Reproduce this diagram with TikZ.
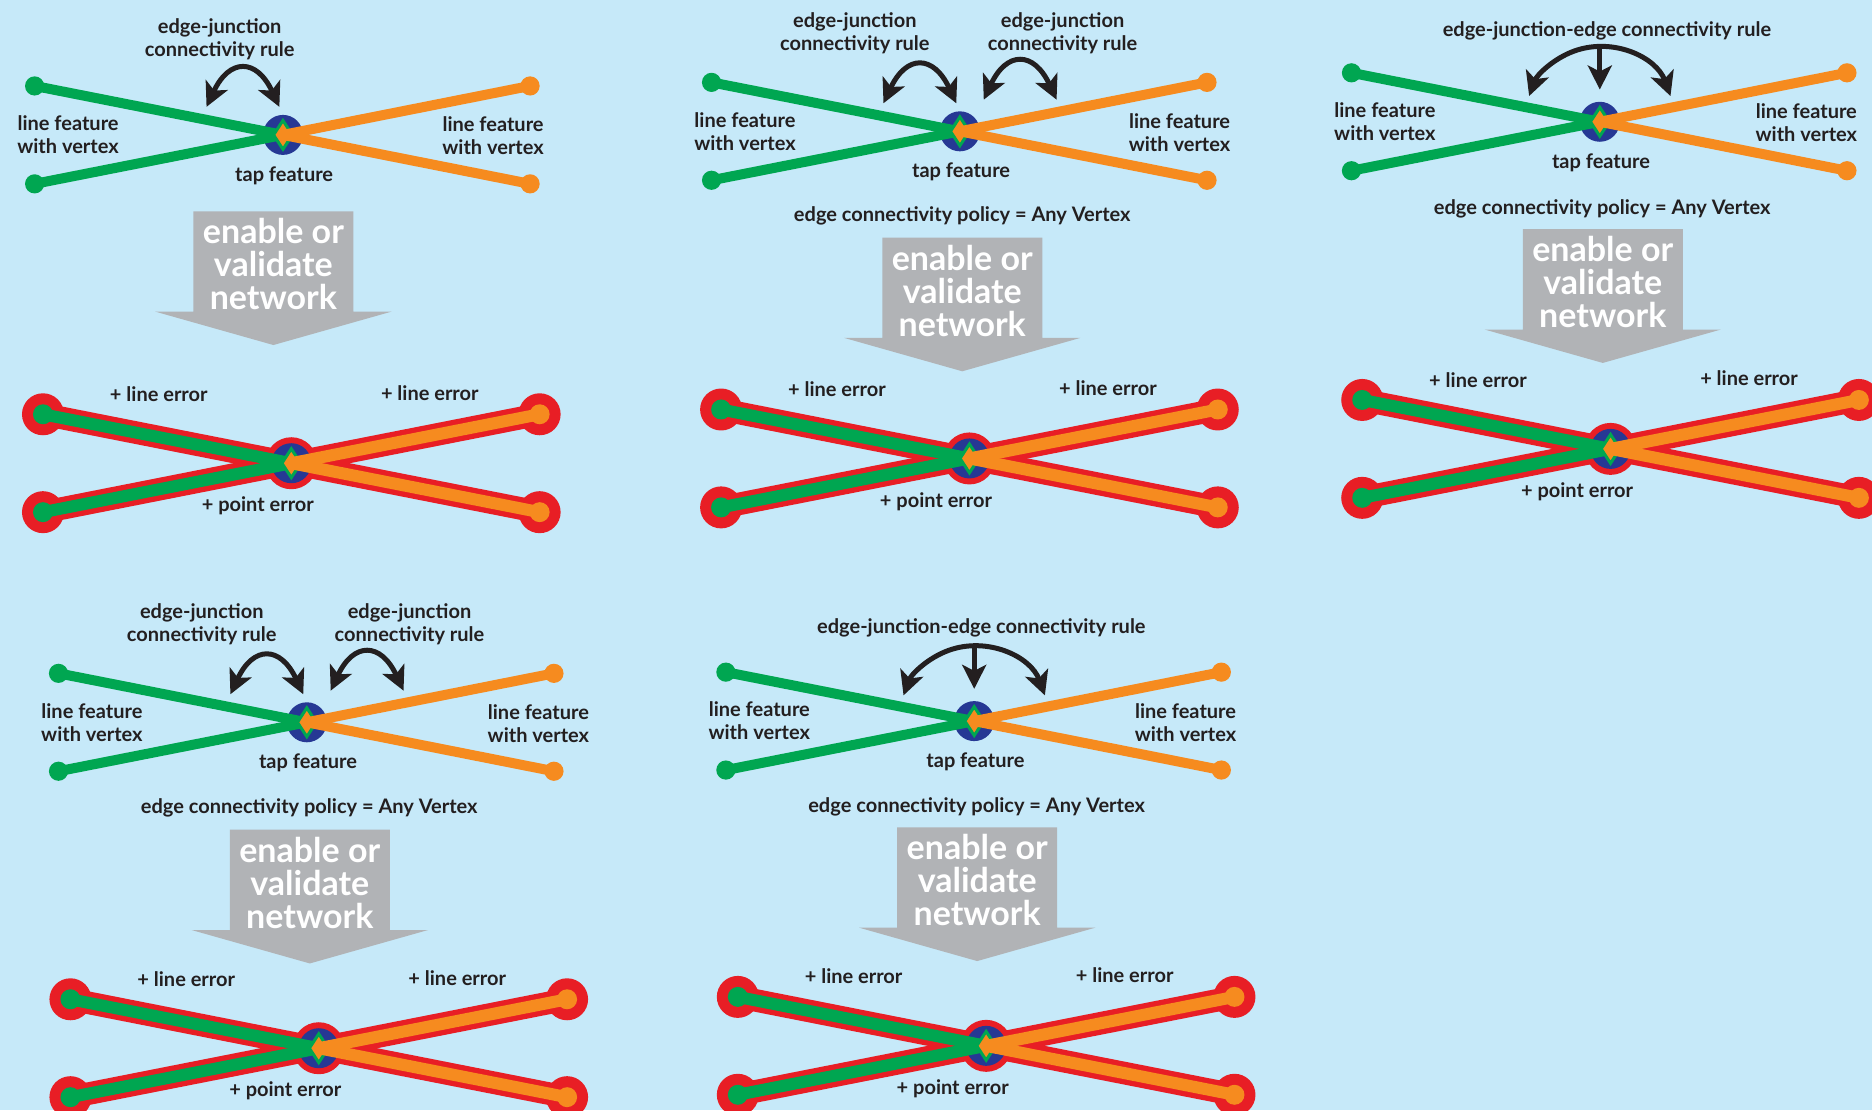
\documentclass[tikz,border=0pt]{standalone}
\usepackage{fontspec}
\setmainfont{Lato}
\usetikzlibrary{arrows.meta,shapes.geometric}

\definecolor{bgblue}{RGB}{198,233,249}
\definecolor{fgreen}{RGB}{0,166,81}
\definecolor{forange}{RGB}{246,139,31}
\definecolor{ered}{RGB}{232,30,37}
\definecolor{tapblue}{RGB}{38,56,148}
\definecolor{vgrey}{RGB}{177,179,182}
\definecolor{ink}{RGB}{35,31,32}

\tikzset{
  lbl/.style={text=ink, font=\bfseries\fontsize{10}{11.5}\selectfont, align=center, inner sep=0pt},
  bigtxt/.style={text=white, font=\bfseries\fontsize{17}{16.5}\selectfont, align=center, inner sep=0pt},
  gline/.style={draw=fgreen, line width=5pt},
  oline/.style={draw=forange, line width=5pt},
  gdot/.style={circle, fill=fgreen, minimum size=9.6pt, inner sep=0pt},
  odot/.style={circle, fill=forange, minimum size=9.6pt, inner sep=0pt},
  tapdot/.style={circle, fill=tapblue, minimum size=20pt, inner sep=0pt},
  tapmark/.style={diamond, fill=forange, draw=fgreen, line width=1.5pt, minimum width=10pt, minimum height=15pt, inner sep=0pt},
  errline/.style={draw=ered, line width=11.3pt},
  errdot/.style={circle, fill=ered, minimum size=21pt, inner sep=0pt},
  errtap/.style={circle, fill=ered, minimum size=26pt, inner sep=0pt},
  egline/.style={draw=fgreen, line width=6pt},
  eoline/.style={draw=forange, line width=6pt},
  egdot/.style={circle, fill=fgreen, minimum size=10pt, inner sep=0pt},
  eodot/.style={circle, fill=forange, minimum size=10pt, inner sep=0pt},
  ruletip/.tip={Stealth[length=12pt, width=12pt, inset=3pt]},
  rulearrow/.style={draw=ink, line width=2.5pt, ruletip-ruletip},
  downarrow/.style={draw=ink, line width=2.5pt, -ruletip},
  crossing/.pic={
    \node[tapdot] (-tap) at (0,0) {};
    \node[gdot] (-g1) at (-208,41) {};
    \node[gdot] (-g2) at (-208,-41) {};
    \node[odot] (-o1) at (207,41) {};
    \node[odot] (-o2) at (207,-41) {};
    \draw[gline] (-g1.center) -- (-tap.center);
    \draw[gline] (-g2.center) -- (-tap.center);
    \node[tapmark] (-mark) at (0,0) {};
    \draw[oline] (-o1.center) -- (-tap.center);
    \draw[oline] (-o2.center) -- (-tap.center);
    \node[lbl] (-left) at (-180,0) {line feature\\with vertex};
    \node[lbl] (-right) at (#1,-1) {line feature\\with vertex};
    \node[lbl] (-name) at (1,-34) {tap feature};
  },
  errorx/.pic={
    \node[errtap] (-tap) at (0,0) {};
    \node[errdot] (-g1) at (-208,41) {};
    \node[errdot] (-g2) at (-208,-41) {};
    \node[errdot] (-o1) at (208,41) {};
    \node[errdot] (-o2) at (208,-41) {};
    \draw[errline] (-g1.center) -- (-tap.center);
    \draw[errline] (-g2.center) -- (-tap.center);
    \draw[errline] (-o1.center) -- (-tap.center);
    \draw[errline] (-o2.center) -- (-tap.center);
    \node[tapdot] (-blue) at (0,0) {};
    \node[egdot] (-gd1) at (-g1) {};
    \node[egdot] (-gd2) at (-g2) {};
    \draw[egline] (-gd1.center) -- (-tap.center);
    \draw[egline] (-gd2.center) -- (-tap.center);
    \node[tapmark] (-mark) at (0,0) {};
    \node[eodot] (-od1) at (-o1) {};
    \node[eodot] (-od2) at (-o2) {};
    \draw[eoline] (-od1.center) -- (-tap.center);
    \draw[eoline] (-od2.center) -- (-tap.center);
    \node[lbl] (-err1) at (-111,58) {+ line error};
    \node[lbl] (-err2) at (116,59) {+ line error};
    \node[lbl] (-perr) at (-28,-36) {+ point error};
  },
  valarrow/.pic={
    \fill[vgrey] (-67,0) -- (67,0) -- (67,-84) -- (99,-84) -- (0,-112)
      -- (-99,-84) -- (-67,-84) -- cycle;
    \node[bigtxt] (-txt) at (0,-44.5) {enable or\\validate\\network};
  },
  jarrow/.pic={
    \coordinate (-a) at (-30.5,0);
    \coordinate (-b) at (30.5,0);
    \draw[rulearrow] (-a) to[out=65, in=115, looseness=1.9] (-b);
  },
  jjarrow/.pic={
    \coordinate (-b) at (20:63);
    \coordinate (-top) at (0,63);
    \coordinate (-tip) at (0,27);
    \draw[rulearrow] (-b) arc[start angle=20, end angle=160, radius=63];
    \draw[downarrow] (-top) -- (-tip);
  }
}

\begin{document}
\begin{tikzpicture}[x=0.597pt, y=0.597pt]
\useasboundingbox (0,0) rectangle (1568,930);
\fill[bgblue] (0,0) rectangle (1568,930);
\clip (0,0) rectangle (1568,930);

% top left
\pic (c1) at (237,817) {crossing=176};
\pic (a1) at (203.5,840.5) {jarrow};
\node[lbl] (r1) at (184,897.5) {edge-junction\\connectivity rule};
\pic (v1) at (229,753) {valarrow};
\pic (e1) at (244,542) {errorx};

% top middle
\pic (c2) at (804,820) {crossing=184};
\pic (a2) at (770.5,843.5) {jarrow};
\pic (b2) at (854.5,846.5) {jarrow};
\node[lbl] (r2) at (716,902.5) {edge-junction\\connectivity rule};
\node[lbl] (s2) at (890,902.5) {edge-junction\\connectivity rule};
\node[lbl] (p2) at (806,749) {edge connectivity policy = Any Vertex};
\pic (v2) at (806,731) {valarrow};
\pic (e2) at (812,546) {errorx};

% top right
\pic (c3) at (1340,828) {crossing=173};
\pic (a3) at (1340,828) {jjarrow};
\node[lbl] (r3) at (1346,904) {edge-junction-edge connectivity rule};
\node[lbl] (p3) at (1342,755) {edge connectivity policy = Any Vertex};
\pic (v3) at (1342.5,738) {valarrow};
\pic (e3) at (1349,554) {errorx};

% bottom left
\pic (c4) at (257,325) {crossing=194};
\pic (a4) at (223.5,348.5) {jarrow};
\pic (b4) at (307.5,351.5) {jarrow};
\node[lbl] (r4) at (169,407) {edge-junction\\connectivity rule};
\node[lbl] (s4) at (343,407) {edge-junction\\connectivity rule};
\node[lbl] (p4) at (259,253) {edge connectivity policy = Any Vertex};
\pic (v4) at (259.5,235) {valarrow};
\pic (e4) at (267,52) {errorx};

% bottom middle
\pic (c5) at (816,326) {crossing=177};
\pic (a5) at (816,326) {jjarrow};
\node[lbl] (r5) at (822,404) {edge-junction-edge connectivity rule};
\node[lbl] (p5) at (818,254) {edge connectivity policy = Any Vertex};
\pic (v5) at (818.5,237) {valarrow};
\pic (e5) at (826,54) {errorx};
\end{tikzpicture}
\end{document}
